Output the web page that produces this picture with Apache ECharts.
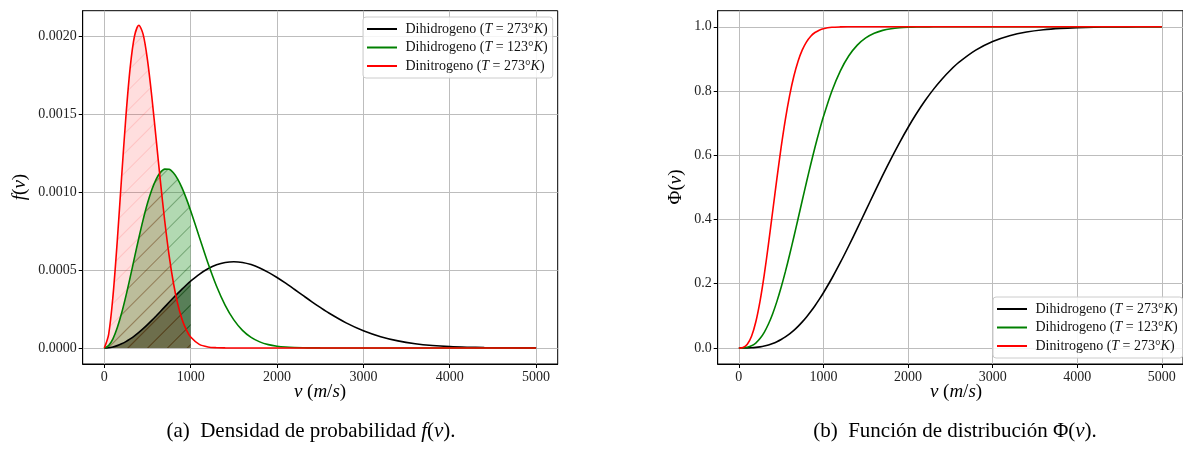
<!DOCTYPE html>
<html><head><meta charset="utf-8">
<script src="https://cdn.jsdelivr.net/npm/echarts@6/dist/echarts.min.js"></script>
<style>html,body{margin:0;padding:0;background:#fff}#c{width:1183px;height:458px}</style>
</head><body><div id="c"></div>
<script>
// speeds (m/s)
const speeds = [0,50,100,150,200,250,300,350,400,450,500,550,600,650,700,750,800,850,900,950,1000,
  1100,1200,1300,1400,1500,1600,1700,1800,1900,2000,2100,2200,2300,2400,2500,2600,
  2800,3000,3200,3400,3600,3800,4000,4200,4400,4600,4800,5000];

// density f(v)
const densH2_273 = [0,0.0000017,0.0000067,0.0000149,0.0000263,0.0000407,0.0000578,0.0000776,0.0000996,0.0001238,0.0001496,0.0001768,0.0002051,0.0002342,0.0002635,0.0002929,0.0003220,0.0003504,0.0003779,0.0004041,0.0004287,
  0.0004726,0.0005077,0.0005332,0.0005485,0.0005535,0.0005487,0.0005349,0.0005133,0.0004852,0.0004521,0.0004154,0.0003766,0.0003370,0.0002977,0.0002599,0.0002240,
  0.0001608,0.0001102,0.0000723,0.0000454,0.0000273,0.0000158,0.0000087,0.0000047,0.0000024,0.0000012,0.0000006,0.0000002];
const densH2_123 = [0,0.0000149,0.0000588,0.0001292,0.0002221,0.0003324,0.0004541,0.0005807,0.0007058,0.0008234,0.0009280,0.0010153,0.0010821,0.0011265,0.0011477,0.0011465,0.0011243,0.0010835,0.0010269,0.0009581,0.0008805,
  0.0007123,0.0005452,0.0003961,0.0002737,0.0001802,0.0001131,0.0000678,0.0000389,0.0000213,0.0000112,0.0000056,0.0000027,0.0000012,0.0000005,0.0000002,0.0000001,
  0,0,0,0,0,0,0,0,0,0,0,0];
const densN2_273 = [0,0.0000862,0.0003290,0.0006847,0.0010918,0.0014831,0.0017999,0.0020015,0.0020703,0.0020118,0.0018483,0.0016137,0.0013427,0.0010685,0.0008146,0.0005957,0.0004184,0.0002827,0.0001841,0.0001154,0.0000697,
  0.0000229,0.0000065,0.0000016,0.0000003,0,0,0,0,0,0,0,0,0,0,0,0,
  0,0,0,0,0,0,0,0,0,0,0,0];

// distribution Phi(v)
const cdfH2_273 = [0,0.00003,0.00022,0.00075,0.00176,0.00343,0.00588,0.00925,0.01367,0.01925,0.02608,0.03423,0.04378,0.05476,0.06720,0.08111,0.09646,0.11329,0.13151,0.15105,0.17189,
  0.21703,0.26612,0.31822,0.37241,0.42759,0.48277,0.53704,0.58949,0.63949,0.68637,0.72977,0.76937,0.80504,0.83679,0.86464,0.88883,
  0.92708,0.95399,0.97204,0.98363,0.99078,0.99500,0.99739,0.99868,0.99936,0.99970,0.99987,0.99995];
const cdfH2_123 = [0,0.00025,0.00198,0.00657,0.01527,0.02908,0.04870,0.07456,0.10672,0.14500,0.18885,0.23752,0.29005,0.34535,0.40231,0.45976,0.51659,0.57184,0.62469,0.67438,0.72035,
  0.80004,0.86284,0.90969,0.94294,0.96539,0.97986,0.98874,0.99395,0.99688,0.99846,0.99926,0.99967,0.99986,0.99994,0.99998,1,
  1,1,1,1,1,1,1,1,1,1,1,1];
const cdfN2_273 = [0,0.00145,0.01124,0.03623,0.08058,0.14511,0.22760,0.32316,0.42552,0.52805,0.62495,0.71171,0.78575,0.84595,0.89288,0.92797,0.95316,0.97054,0.98205,0.98943,0.99398,
  0.99823,0.99954,0.99990,0.99998,1,1,1,1,1,1,1,1,1,1,1,1,
  1,1,1,1,1,1,1,1,1,1,1,1];

const xTicks = [0,1000,2000,3000,4000,5000];
const yTicksDensity = [0,0.0005,0.001,0.0015,0.002];
const yTicksCdf = [0,0.2,0.4,0.6,0.8,1.0];
const fillLimit = 1000;

const seriesNames = ['H2_273','H2_123','N2_273'];
const seriesLabels = {
  H2_273: 'Dihidrogeno ({i|T} = 273°{i|K})',
  H2_123: 'Dihidrogeno ({i|T} = 123°{i|K})',
  N2_273: 'Dinitrogeno ({i|T} = 273°{i|K})'
};
const colors = {H2_273:'#000000', H2_123:'#008000', N2_273:'#ff0000'};

const FONT = 'Liberation Serif';
const pairs = ys => speeds.map((v,i)=>[v, ys[i]]);
const pairsUpTo = (ys, lim) => speeds.map((v,i)=>[v, ys[i]]).filter(p=>p[0]<=lim);

function xAxisCfg(gi){
  return {type:'value', gridIndex:gi, min:-250, max:5250,
    axisLine:{show:true, onZero:false, lineStyle:{color:'#000', width:1}},
    axisTick:{show:true, inside:false, length:4, lineStyle:{color:'#000'}, customValues:xTicks},
    axisLabel:{customValues:xTicks, fontFamily:FONT, fontSize:14, color:'#222', margin:6,
      formatter: v => String(Math.round(v))},
    splitLine:{show:true, lineStyle:{color:'#bdbdbd', width:1}}};
}
function yAxisCfg(gi, min, max, ticks, dec){
  return {type:'value', gridIndex:gi, min:min, max:max,
    axisLine:{show:true, onZero:false, lineStyle:{color:'#000', width:1}},
    axisTick:{show:true, inside:false, length:4, lineStyle:{color:'#000'}, customValues:ticks},
    axisLabel:{customValues:ticks, fontFamily:FONT, fontSize:14, color:'#222', margin:6,
      formatter: v => Number(v).toFixed(dec)},
    splitLine:{show:true, lineStyle:{color:'#bdbdbd', width:1}}};
}
function lineSeries(name, ys, gi){
  return {name:name, type:'line', xAxisIndex:gi, yAxisIndex:gi, data:pairs(ys),
    smooth:0.3, showSymbol:false, symbol:'none', z:5, color:colors[name],
    lineStyle:{width:1.6, color:colors[name]}, emphasis:{disabled:true}, animation:false};
}
function fillSeries(name, ys, fill, hatch){
  return {name:name+'_fill', type:'line', xAxisIndex:0, yAxisIndex:0, data:pairsUpTo(ys, fillLimit),
    smooth:0.3, showSymbol:false, symbol:'none', z:3, lineStyle:{width:0},
    itemStyle:{color:fill, decal:{symbol:'rect', symbolSize:1, dashArrayX:[[1,0]], dashArrayY:[1,13], rotation:-Math.PI/4, color:hatch}},
    areaStyle:{color:fill, opacity:1}, emphasis:{disabled:true}, animation:false};
}
function legendCfg(left, top){
  return {left:left, top:top, orient:'vertical', data:seriesNames, icon:'rect', itemWidth:30, itemHeight:2,
    itemGap:2.5, padding:[4,5,4,4], backgroundColor:'rgba(255,255,255,0.85)', borderColor:'#cccccc', borderWidth:1,
    borderRadius:3, selectedMode:false,
    formatter: n => ' ' + seriesLabels[n],
    textStyle:{fontFamily:FONT, fontSize:14, color:'#111', lineHeight:16,
      rich:{i:{fontFamily:FONT, fontSize:14, fontStyle:'italic', color:'#111', lineHeight:16}}}};
}
function txt(x, y, text, size, rot){
  return {type:'text', x:x, y:y, rotation:rot||0, silent:true,
    style:{text:text, fill:'#000', font: size+'px "'+FONT+'"', align:'center', verticalAlign:'middle',
      rich:{i:{fontFamily:FONT, fontSize:size, fontStyle:'italic', fill:'#000'}}}};
}

const option = {
  animation:false,
  backgroundColor:'#fff',
  grid:[
    {left:82.7, top:10.7, width:475, height:353.3, show:true, borderColor:'#000', borderWidth:1, backgroundColor:'transparent'},
    {left:717.7, top:10.7, width:476, height:353.3, show:true, borderColor:'#000', borderWidth:1, backgroundColor:'transparent'}
  ],
  xAxis:[xAxisCfg(0), xAxisCfg(1)],
  yAxis:[yAxisCfg(0, -0.000103, 0.002164, yTicksDensity, 4), yAxisCfg(1, -0.05, 1.05, yTicksCdf, 1)],
  legend:[legendCfg(363,17), legendCfg(993,297)],
  series:[
    fillSeries('H2_273', densH2_273, 'rgba(0,0,0,0.5)', 'rgba(0,0,0,0.35)'),
    fillSeries('H2_123', densH2_123, 'rgba(0,128,0,0.3)', 'rgba(0,70,0,0.35)'),
    fillSeries('N2_273', densN2_273, 'rgba(255,0,0,0.13)', 'rgba(255,0,0,0.12)'),
    lineSeries('H2_273', densH2_273, 0),
    lineSeries('H2_123', densH2_123, 0),
    lineSeries('N2_273', densN2_273, 0),
    lineSeries('H2_273', cdfH2_273, 1),
    lineSeries('H2_123', cdfH2_123, 1),
    lineSeries('N2_273', cdfN2_273, 1)
  ],
  graphic:[
    txt(20, 187, '{i|f}({i|v})', 19, Math.PI/2),
    txt(676, 187, 'Φ({i|v})', 19, Math.PI/2),
    txt(320, 392, '{i|v} ({i|m}/{i|s})', 19),
    txt(956, 392, '{i|v} ({i|m}/{i|s})', 19),
    txt(311, 431, '(a)  Densidad de probabilidad {i|f}({i|v}).', 21),
    txt(955, 431, '(b)  Función de distribución Φ({i|v}).', 21)
  ]
};
const chart = echarts.init(document.getElementById('c'), null, {renderer:'canvas'});
chart.setOption(option);
</script>
</body></html>
